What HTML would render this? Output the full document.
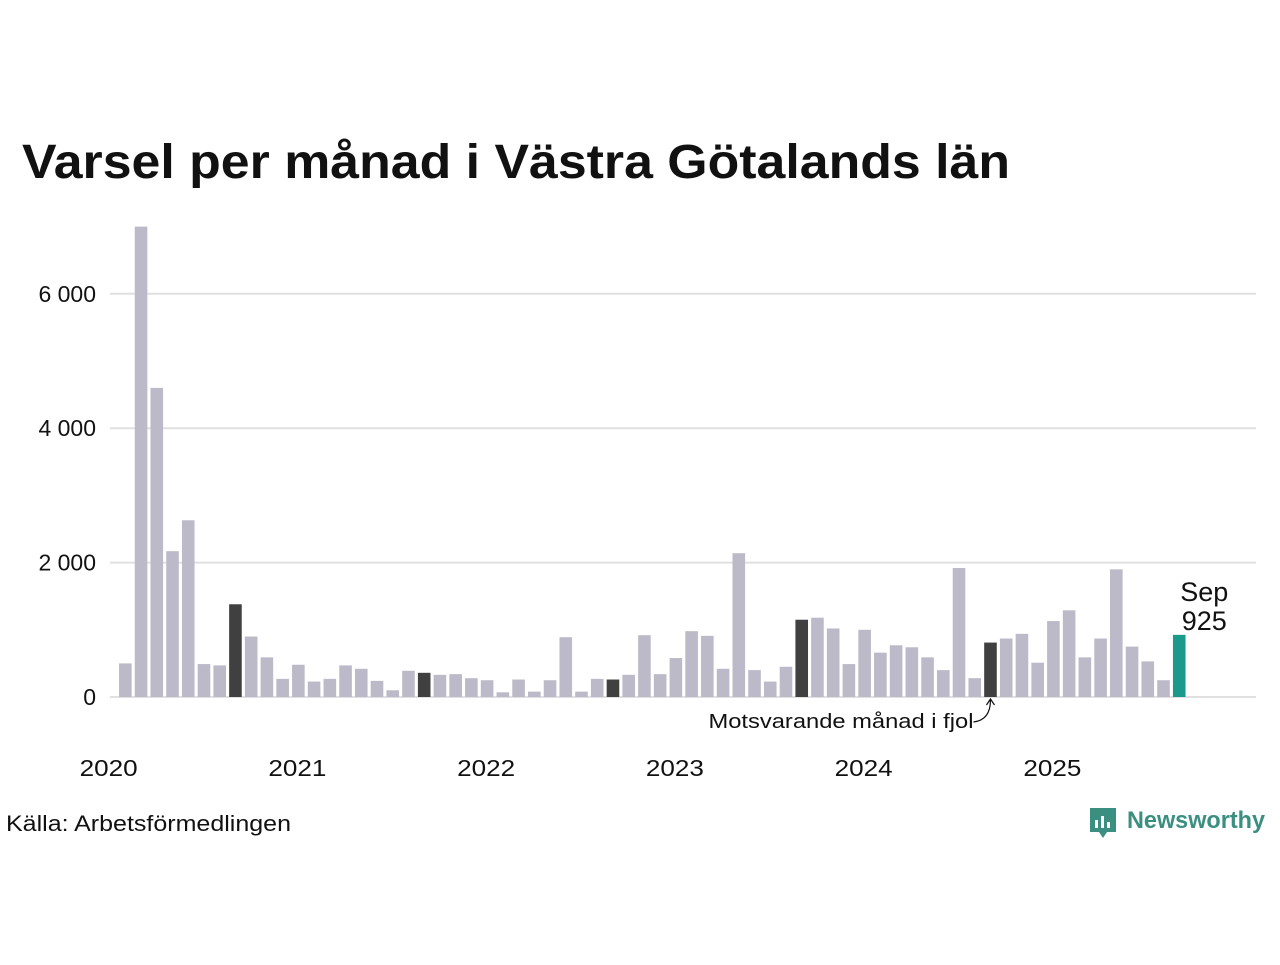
<!DOCTYPE html>
<html><head><meta charset="utf-8">
<style>
body{margin:0;width:1280px;height:960px;background:#fff;font-family:"Liberation Sans","DejaVu Sans",sans-serif;overflow:hidden}
</style></head>
<body>
<svg id="chart" width="1280" height="960" xmlns="http://www.w3.org/2000/svg">
<text x="22" y="178" font-size="48" font-weight="bold" fill="#111" textLength="988" lengthAdjust="spacingAndGlyphs">Varsel per månad i Västra Götalands län</text>
<g id="grid"></g><g id="bars"></g><g id="xlabels"></g>
<text x="6" y="831" font-size="22" fill="#111" textLength="285" lengthAdjust="spacingAndGlyphs">Källa: Arbetsförmedlingen</text>
<g>
<path d="M1090 808 h26 v24 h-9 l-4 6 l-4 -6 h-9 z" fill="#3a8f80"/>
<rect x="1095" y="820" width="3" height="8" fill="#fff"/><rect x="1101" y="816" width="3" height="12" fill="#fff"/><rect x="1107" y="822" width="3" height="6" fill="#fff"/>
<text x="1127" y="828" font-size="24" font-weight="bold" fill="#3a8f80" textLength="138" lengthAdjust="spacingAndGlyphs">Newsworthy</text>
</g>
</svg>
<script>
const months = ["2020-02","2020-03","2020-04","2020-05","2020-06","2020-07","2020-08","2020-09","2020-10","2020-11","2020-12",
"2021-01","2021-02","2021-03","2021-04","2021-05","2021-06","2021-07","2021-08","2021-09","2021-10","2021-11","2021-12",
"2022-01","2022-02","2022-03","2022-04","2022-05","2022-06","2022-07","2022-08","2022-09","2022-10","2022-11","2022-12",
"2023-01","2023-02","2023-03","2023-04","2023-05","2023-06","2023-07","2023-08","2023-09","2023-10","2023-11","2023-12",
"2024-01","2024-02","2024-03","2024-04","2024-05","2024-06","2024-07","2024-08","2024-09","2024-10","2024-11","2024-12",
"2025-01","2025-02","2025-03","2025-04","2025-05","2025-06","2025-07","2025-08","2025-09"];
const values = [500,7000,4600,2170,2630,490,470,1380,900,590,270,
480,230,270,470,420,240,100,390,360,330,340,280,
250,70,260,80,250,890,80,270,260,330,920,340,
580,980,910,420,2140,400,230,450,1150,1180,1020,490,
1000,660,770,740,590,400,1920,280,810,870,940,510,
1130,1290,590,870,1900,750,530,250,925];
const yTicks = [0,2000,4000,6000];
const yTickLabels = ["0","2 000","4 000","6 000"];
const yearLabels = ["2020","2021","2022","2023","2024","2025"];

const NS="http://www.w3.org/2000/svg";
const y = v => 697 - v*0.0672;
const mIndex = s => { const [a,b]=s.split("-").map(Number); return (a-2020)*12 + (b-1); };
const x = i => 109.6 + i*15.73;
function mk(tag, attrs, parent, txt){const e=document.createElementNS(NS,tag);for(const k in attrs)e.setAttribute(k,attrs[k]);if(txt!==undefined)e.textContent=txt;parent.appendChild(e);return e;}
const grid=document.getElementById('grid'), bars=document.getElementById('bars'), xl=document.getElementById('xlabels');
yTicks.forEach((t,i)=>{
  const l=mk('line',{x1:110,x2:1256,y1:y(t),y2:y(t),stroke:'#e0e0e0','stroke-width':2},grid);
  
  
  const tx=mk('text',{x:96,y:y(t)+8,'font-size':23,'text-anchor':'end',fill:'#111'},grid,yTickLabels[i]);
  
  
});
const last=months.length-1;
months.forEach((m,i)=>{
  const mi=mIndex(m), cx=x(mi), v=values[i];
  const isSep=m.endsWith("-09");
  const fill = i===last ? '#1a9a8a' : (isSep ? '#404040' : '#bcbac8');
  const r=mk('rect',{x:cx-6.3,y:y(v),width:12.6,height:697-y(v),fill:fill},bars);
  
  
});
yearLabels.forEach((yr)=>{
  const t=mk('text',{x:x((+yr-2020)*12)-1,y:776,'font-size':23,'text-anchor':'middle',fill:'#111',textLength:58,lengthAdjust:'spacingAndGlyphs'},xl,yr);
  
  
});
const lx=x(mIndex(months[last])), ly=y(values[last]);
const a=mk('text',{x:lx+25,y:ly-34,'font-size':27,'text-anchor':'middle',fill:'#111'},bars,"Sep");


const b=mk('text',{x:lx+25,y:ly-5,'font-size':27,'text-anchor':'middle',fill:'#111'},bars,String(values[last]));


const px=x(mIndex(months[last])-12);
const an=mk('text',{x:px-17,y:728,'font-size':20,'text-anchor':'end',fill:'#111',textLength:265,lengthAdjust:'spacingAndGlyphs'},bars,"Motsvarande månad i fjol");


const ar=mk('path',{d:`M${px-17} 722 Q${px} 720 ${px} 700 M${px-4} 705 L${px} 699 L${px+4} 705`,fill:'none',stroke:'#111','stroke-width':1.2},bars);


</script>
</body></html>
